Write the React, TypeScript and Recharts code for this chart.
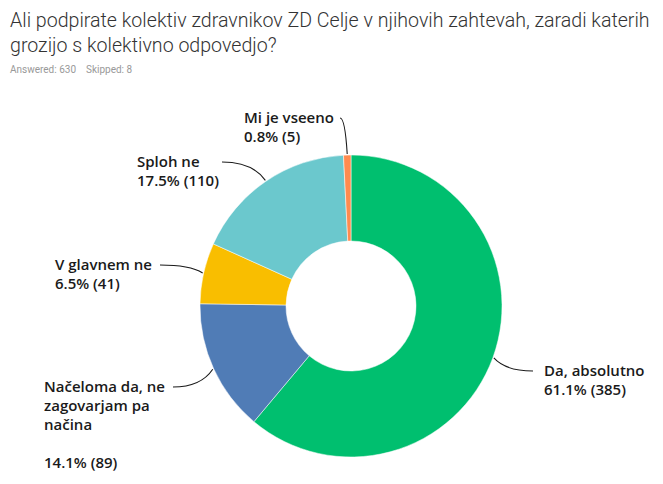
import { Pie, PieChart, Cell } from "recharts";

const answers = ["Da, absolutno", "Načeloma da, ne zagovarjam pa načina", "V glavnem ne", "Sploh ne", "Mi je vseeno"];
const counts = [385, 89, 41, 110, 5];
const percents = [61.1, 14.1, 6.5, 17.5, 0.8];
const colors = ["#00BF6F", "#507CB6", "#F9BE00", "#6BC8CD", "#FF8B4F"];

const answeredCount = 630;
const skippedCount = 8;

// label anchor relative to pie centre: where the leader line meets the text
const labelLayout = [
    { dx: 182, dy: 65 },
    { dx: -178, dy: 81 },
    { dx: -191, dy: -41 },
    { dx: -129, dy: -144 },
    { dx: -11, dy: -188 },
];

const textX = [193, -307, -296, -214, -107];

const RAD = Math.PI / 180;
const FONT = "'Open Sans', 'Noto Sans', sans-serif";

function wrap(text: string, max: number) {
    const words = text.split(" ");
    const lines: string[] = [];
    let cur = "";
    for (const w of words) {
        if (cur && (cur + " " + w).length > max) {
            lines.push(cur);
            cur = w;
        } else {
            cur = cur ? cur + " " + w : w;
        }
    }
    if (cur) lines.push(cur);
    return lines;
}

const data = answers.map((name, i) => ({ name, value: counts[i], pct: percents[i] }));

function renderLabel(props: any) {
    const { cx, cy, midAngle, outerRadius, index } = props;
    const lay = labelLayout[index];
    const ex = cx + (outerRadius + 1) * Math.cos(-midAngle * RAD);
    const ey = cy + (outerRadius + 1) * Math.sin(-midAngle * RAD);
    const ax = cx + lay.dx;
    const ay = cy + lay.dy;
    const qx = ax + 0.7 * (ex - ax);
    const tx = cx + textX[index];
    const lines = wrap(data[index].name, 15);
    const pctLine = `${data[index].pct}% (${data[index].value})`;
    const rows = lines.length > 1 ? [...lines, "", pctLine] : [...lines, pctLine];
    return (
        <g key={`lbl-${index}`}>
            <path d={`M${ax},${ay} Q${qx},${ay} ${ex},${ey}`} stroke="#1a1a1a" strokeWidth={1.1} fill="none" />
            <text x={tx} y={ay + 5} fill="#1a1a1a" fontSize={15} fontWeight={600} fontFamily={FONT}>
                {rows.map((r, k) => (
                    <tspan key={k} x={tx} dy={k === 0 ? 0 : 19}>{r || " "}</tspan>
                ))}
            </text>
        </g>
    );
}

export default function App() {
    return (
        <div style={{ position: "absolute", left: 0, top: 0, width: 663, height: 484, background: "#fff" }}>
            <div style={{ position: "absolute", left: 10, top: 8, whiteSpace: "nowrap", fontFamily: "Roboto, sans-serif", fontSize: 19.6, lineHeight: "25px", color: "#333", fontWeight: 300 }}>
                Ali podpirate kolektiv zdravnikov ZD Celje v njihovih zahtevah, zaradi katerih
                <br />
                grozijo s kolektivno odpovedjo?
            </div>
            <div style={{ position: "absolute", left: 10, top: 64, fontFamily: "Roboto, sans-serif", fontSize: 10, color: "#999" }}>
                Answered: {answeredCount}&nbsp;&nbsp;&nbsp;&nbsp;Skipped: {skippedCount}
            </div>
            <div style={{ position: "absolute", left: 0, top: 0 }}>
                <PieChart width={663} height={484} margin={{ top: 0, right: 0, bottom: 0, left: 0 }}>
                    <Pie
                        data={data}
                        dataKey="value"
                        nameKey="name"
                        cx={351}
                        cy={306}
                        innerRadius={65}
                        outerRadius={151}
                        startAngle={90}
                        endAngle={-270}
                        stroke="#fff"
                        strokeWidth={0.5}
                        label={renderLabel}
                        labelLine={false}
                        isAnimationActive={false}
                    >
                        {data.map((d, i) => (
                            <Cell key={d.name} fill={colors[i]} />
                        ))}
                    </Pie>
                </PieChart>
            </div>
        </div>
    );
}
